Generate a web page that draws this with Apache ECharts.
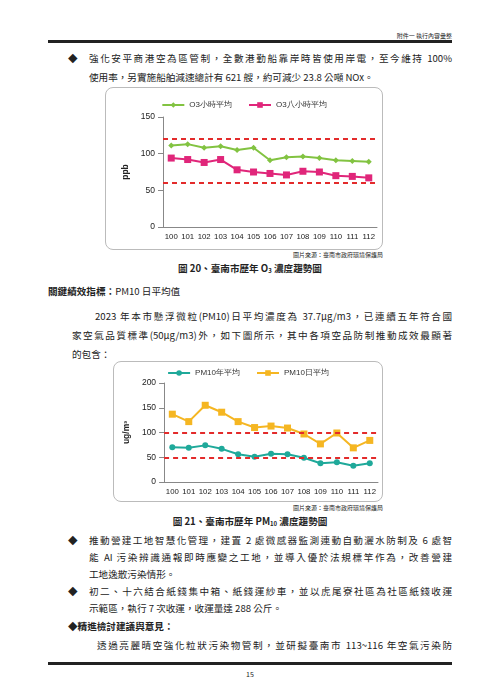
<!DOCTYPE html>
<html><head><meta charset="utf-8">
<script src="https://cdn.jsdelivr.net/npm/echarts@6/dist/echarts.min.js"></script>
<style>
body{margin:0;background:#fff;}
#page{position:relative;width:500px;height:699px;font-family:"Noto Sans CJK TC","Noto Sans",sans-serif;color:#222;}
.t{position:absolute;font-size:9.6px;line-height:14px;white-space:nowrap;}
.j{text-align:justify;text-align-last:justify;white-space:normal;}
.b{font-weight:bold;}
.rule{position:absolute;left:48px;width:404px;background:#222;}
.box{position:absolute;border:1px solid #bbb;border-radius:8px;box-sizing:border-box;}
sub{font-size:6px;vertical-align:-1px;line-height:0;}
</style></head><body>
<div id="page">
<div class="t" style="right:48px;top:29px;font-size:6px;">附件一 執行內容彙整</div>
<div class="rule" style="top:40px;height:3px;"></div>
<div class="t" style="left:68px;top:51px;">◆</div>
<div class="t j" style="left:89px;width:363px;top:51px;">強化安平商港空為區管制，全數港勤船靠岸時皆使用岸電，至今維持 100%</div>
<div class="t" style="left:89px;top:70px;">使用率，另實施船舶減速總計有 621 艘，約可減少 23.8 公噸 NOx。</div>
<div id="c1" class="box" style="left:105px;top:87px;width:278px;height:163px;"></div>
<div class="t" style="right:117px;top:251px;font-size:6px;line-height:8px;">圖片來源：臺南市政府環境保護局</div>
<div class="t b" style="left:0;width:500px;text-align:center;top:261px;">圖 20、臺南市歷年 O<sub>3</sub> 濃度趨勢圖</div>
<div class="t b" style="left:48px;top:284px;">關鍵績效指標：<span style="font-weight:normal">PM10 日平均值</span></div>
<div class="t j" style="left:95px;width:357px;top:309px;">2023 年本市懸浮微粒(PM10)日平均濃度為 37.7μg/m3，已連續五年符合國</div>
<div class="t j" style="left:72px;width:380px;top:328px;">家空氣品質標準(50μg/m3)外，如下圖所示，其中各項空品防制推動成效最顯著</div>
<div class="t" style="left:72px;top:347px;">的包含：</div>
<div id="c2" class="box" style="left:113px;top:361px;width:270px;height:141px;"></div>
<div class="t" style="right:117px;top:504px;font-size:6px;line-height:8px;">圖片來源：臺南市政府環境保護局</div>
<div class="t b" style="left:0;width:500px;text-align:center;top:514px;">圖 21、臺南市歷年 PM<sub>10</sub> 濃度趨勢圖</div>
<div class="t" style="left:68px;top:533px;">◆</div>
<div class="t j" style="left:89px;width:363px;top:533px;">推動營建工地智慧化管理，建置 2 處微感器監測連動自動灑水防制及 6 處智</div>
<div class="t j" style="left:89px;width:363px;top:550px;">能 AI 污染辨識通報即時應變之工地，並導入優於法規標竿作為，改善營建</div>
<div class="t" style="left:89px;top:567px;">工地逸散污染情形。</div>
<div class="t" style="left:68px;top:584px;">◆</div>
<div class="t j" style="left:89px;width:363px;top:584px;">初二、十六結合紙錢集中箱、紙錢運紗車，並以虎尾寮社區為社區紙錢收運</div>
<div class="t" style="left:89px;top:601px;">示範區，執行 7 次收運，收運量達 288 公斤。</div>
<div class="t b" style="left:68px;top:619px;">◆精進檢討建議與意見：</div>
<div class="t j" style="left:97px;width:355px;top:638px;">透過亮麗晴空強化粒狀污染物管制，並研擬臺南市 113~116 年空氣污染防</div>
<div class="rule" style="top:662px;height:3px;"></div>
<div class="t" style="left:0;width:500px;text-align:center;top:667px;font-size:7px;">15</div>
</div>
<script>
const years=['100','101','102','103','104','105','106','107','108','109','110','111','112'];
const o3Hour=[111,113,108,110,105,108,91,95,96,94,91,90,89];
const o3Eight=[94,92,88,92,78,75,73,71,76,75,70,69,67];
const o3Limits=[120,60];
const pmYear=[70,69,74,67,56,51,57,56,49,38,40,33,38];
const pmDay=[137,122,155,141,122,110,113,109,97,77,99,69,84];
const pmLimits=[100,50];

function mk(el,grid,yName,yMax,yInt,limits,s1,s2){
  const c=echarts.init(document.getElementById(el));
  const axisCol='#888';
  c.setOption({
    animation:false,
    legend:{top:grid.legTop,left:'center',itemWidth:22,itemHeight:7,itemGap:16,textStyle:{fontSize:8,color:'#333'}},
    grid:{left:grid.l,right:grid.r,top:grid.t,bottom:grid.b},
    xAxis:{type:'category',data:years,boundaryGap:true,axisLine:{lineStyle:{color:axisCol}},axisTick:{lineStyle:{color:axisCol}},axisLabel:{interval:0,fontSize:7.8,color:'#222',margin:6}},
    yAxis:{type:'value',min:0,max:yMax,interval:yInt,name:yName,nameLocation:'middle',nameGap:grid.ng,nameRotate:90,nameTextStyle:{fontSize:8.5,fontWeight:'bold',color:'#222'},axisLine:{show:true,lineStyle:{color:axisCol}},axisTick:{show:true,lineStyle:{color:axisCol}},splitLine:{show:false},axisLabel:{fontSize:8.5,color:'#222'}},
    series:[
      {name:s1.name,type:'line',data:s1.data,color:s1.color,symbol:s1.sym,symbolSize:s1.size,lineStyle:{width:2},
       markLine:{silent:true,symbol:'none',label:{show:false},lineStyle:{color:'#e32b2b',type:[5,4],width:2},data:limits.map(v=>({yAxis:v}))}},
      {name:s2.name,type:'line',data:s2.data,color:s2.color,symbol:s2.sym,symbolSize:s2.size,lineStyle:{width:2}}
    ]
  });
}
mk('c1',{l:57,r:5,t:29,b:22,legTop:8,ng:30},'ppb',150,50,o3Limits,
  {name:'O3小時平均',data:o3Hour,color:'#82c341',sym:'diamond',size:6},
  {name:'O3八小時平均',data:o3Eight,color:'#e0267a',sym:'rect',size:7});
mk('c2',{l:47,r:4,t:21,b:19,legTop:2,ng:28},'ug/m³',200,50,pmLimits,
  {name:'PM10年平均',data:pmYear,color:'#1fa99a',sym:'circle',size:6},
  {name:'PM10日平均',data:pmDay,color:'#f5b622',sym:'rect',size:7});
</script>
</body></html>
